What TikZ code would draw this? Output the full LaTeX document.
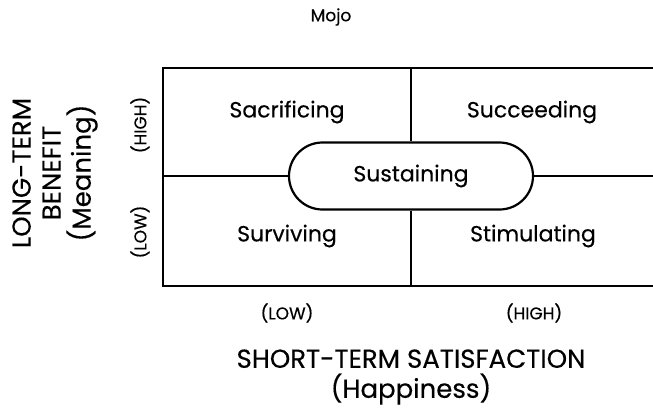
\documentclass[tikz,border=0pt]{standalone}
\usepackage{fontspec}
\setmainfont{Poppins}[FakeBold=0.3]
\usetikzlibrary{shapes.misc}
\begin{document}
\begin{tikzpicture}[x=1pt,y=-1pt,
  frame/.style={line width=2.2pt,black},
  cell/.style={font=\fontsize{22}{26}\selectfont},
  tick/.style={font=\fontsize{17}{20}\selectfont},
  axis/.style={font=\fontsize{26}{30}\selectfont,align=center},
  pill/.style={rounded rectangle,draw,line width=2.2pt,minimum width=244pt,minimum height=67pt,fill=white,inner sep=0pt,font=\fontsize{22}{26}\selectfont}]
\useasboundingbox[fill=white] (0,0) rectangle (653,407);
% frame corners
\coordinate (tl) at (163,68);
\coordinate (tr) at (653,68);
\coordinate (bl) at (163,286);
\coordinate (br) at (653,286);
\coordinate (tm) at (411,68);
\coordinate (bm) at (411,286);
\coordinate (ml) at (163,176);
\coordinate (mr) at (653,176);
\node[pill] (sus) at (411,176) {Sustaining};
\draw[frame] (tr) -- (tl) -- (bl) -- (br);
\draw[frame] (tm) -- (sus.north);
\draw[frame] (sus.south) -- (bm);
\draw[frame] (ml) -- (sus.west);
\draw[frame] (sus.east) -- (mr);
% cells
\node[cell] (sac) at (287,112) {Sacrificing};
\node[cell] (suc) at (532,112) {Succeeding};
\node[cell] (sur) at (287,236) {Surviving};
\node[cell] (sti) at (533,236) {Stimulating};
% title
\node[font=\fontsize{17}{20}\selectfont] (mojo) at (331,17) {Mojo};
% bottom axis
\node[tick] (xlow) at (287,313) {(LOW)};
\node[tick] (xhigh) at (534,313) {(HIGH)};
\node[axis] (xlab) at (411,377) {SHORT-TERM SATISFACTION\\(Happiness)};
% left axis
\node[tick,rotate=90] (yhigh) at (140,125) {(HIGH)};
\node[tick,rotate=90] (ylow) at (140,232) {(LOW)};
\node[axis,rotate=90] (ylab) at (55,173) {LONG-TERM\\BENEFIT\\(Meaning)};
\end{tikzpicture}
\end{document}
